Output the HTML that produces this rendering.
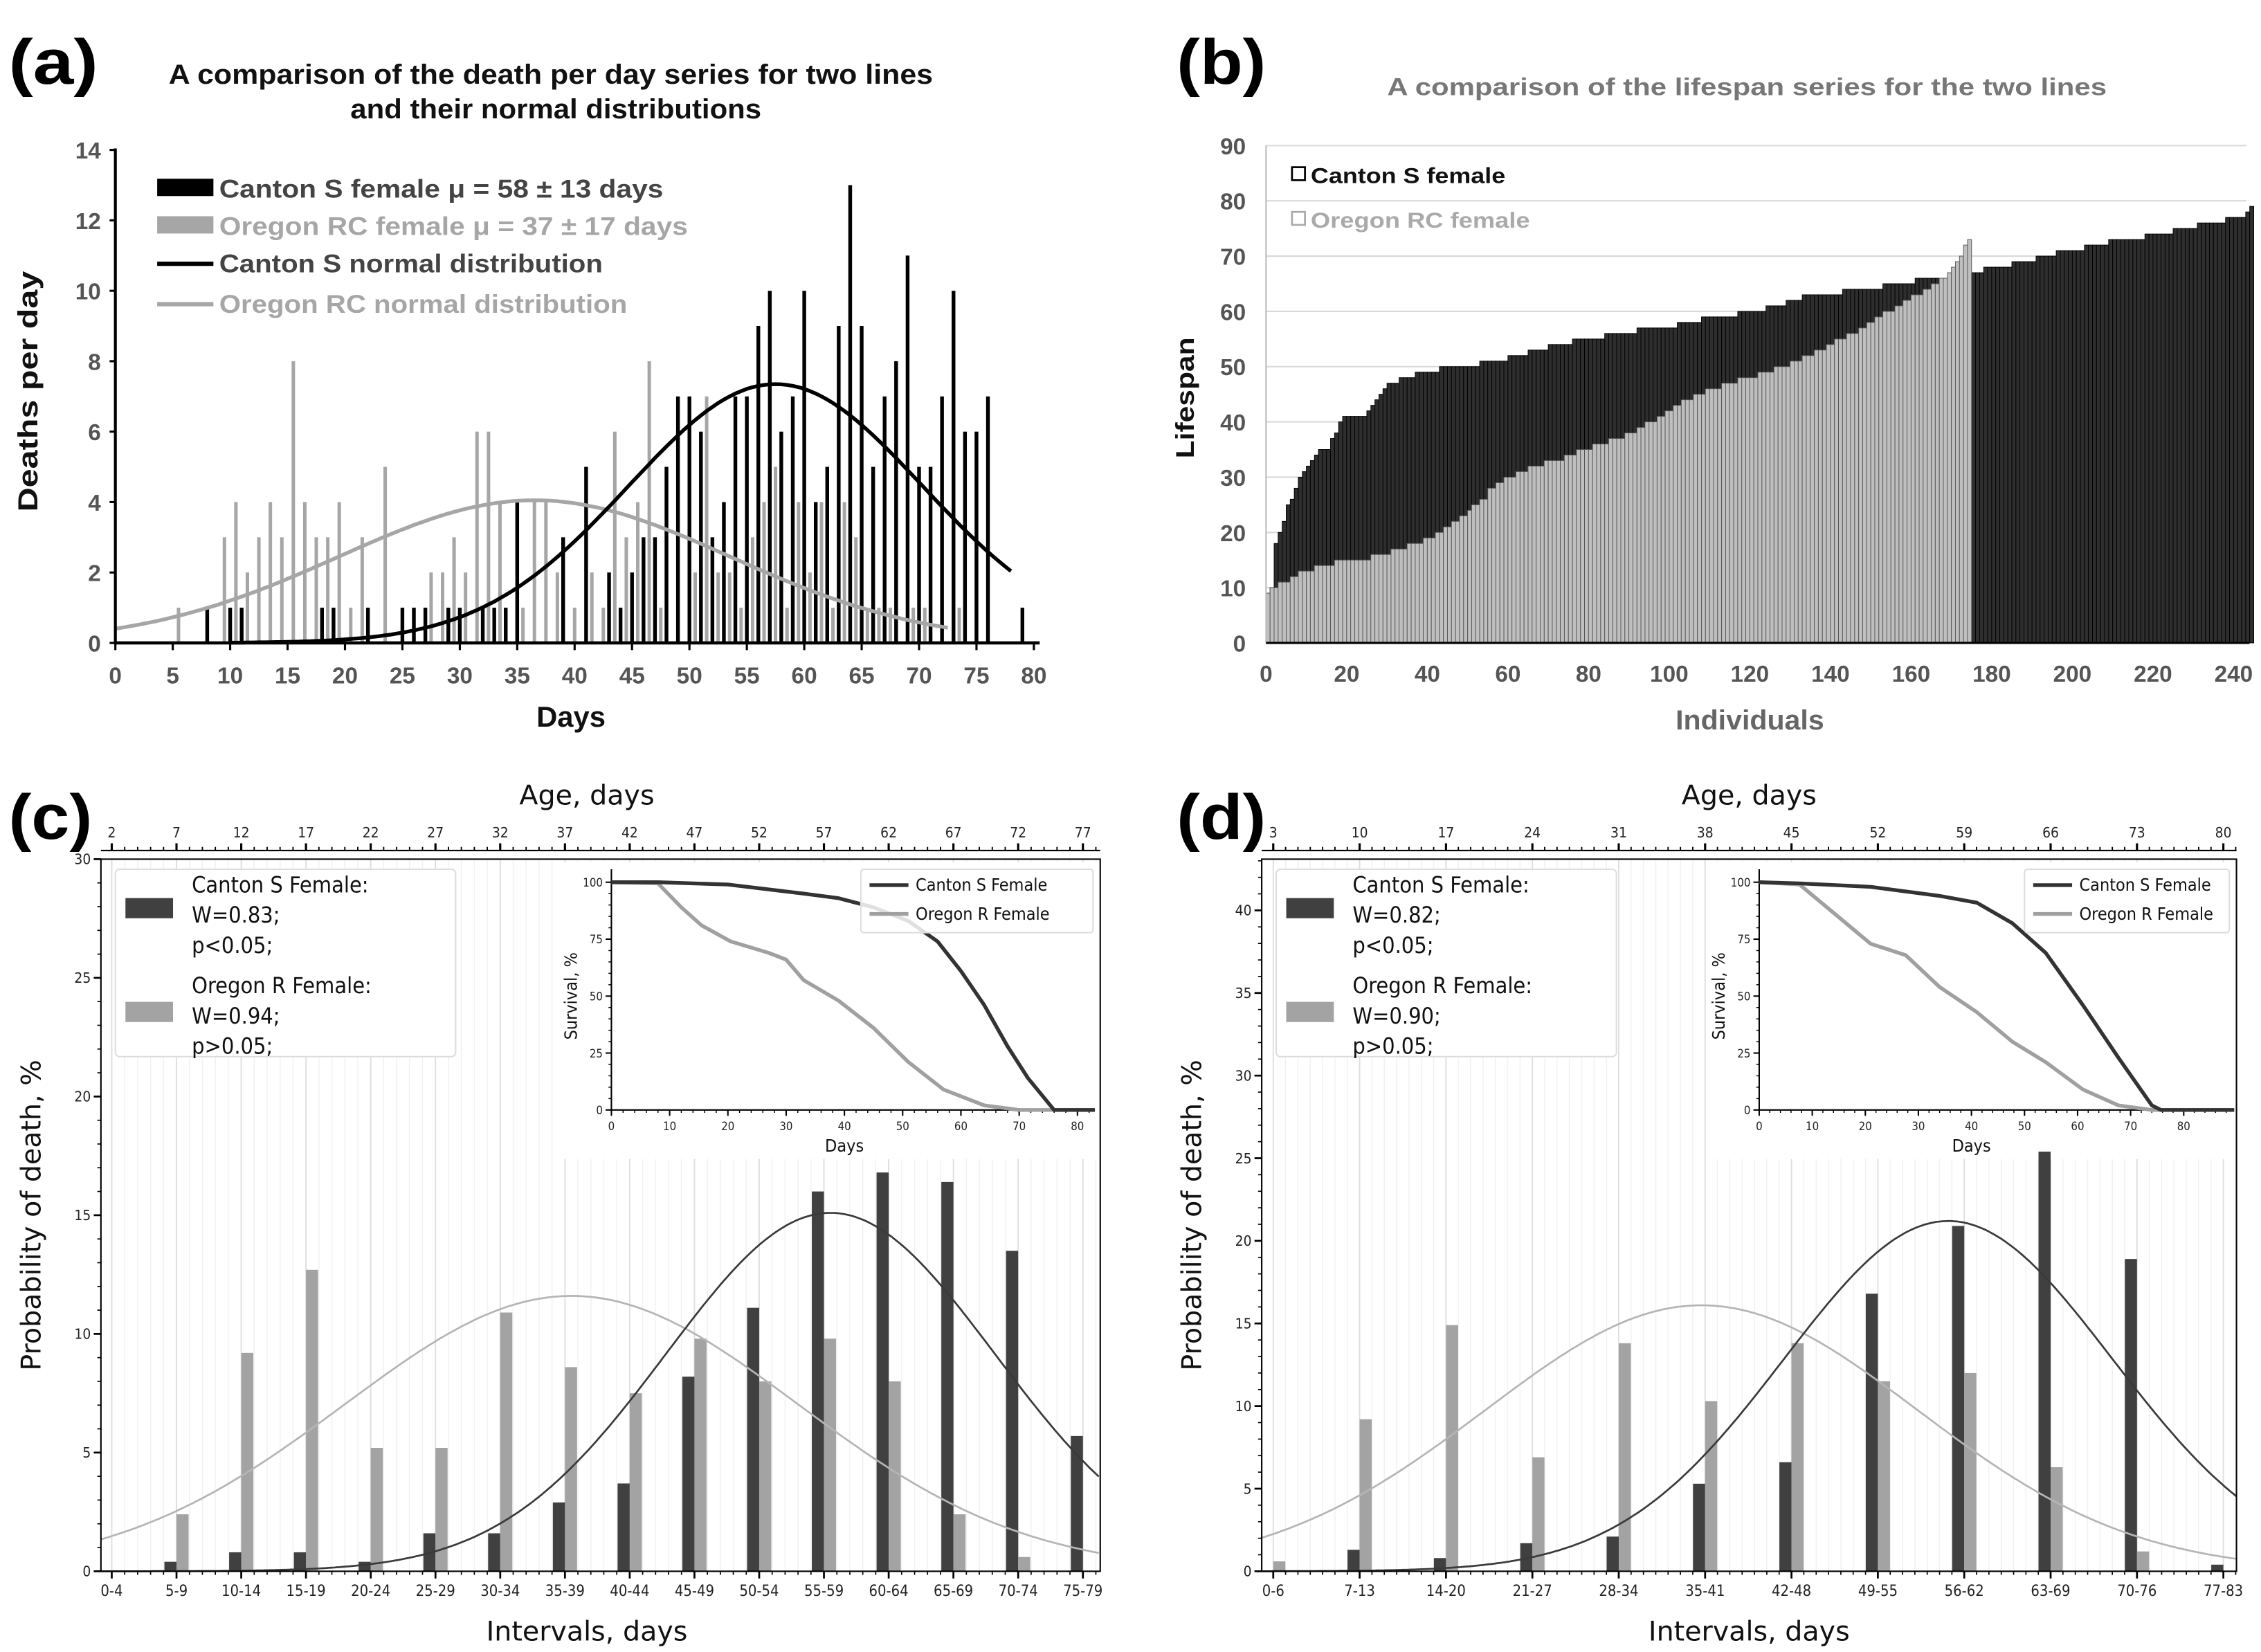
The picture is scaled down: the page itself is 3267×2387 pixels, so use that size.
<!DOCTYPE html>
<html><head><meta charset="utf-8"><title>Lifespan comparison figure</title>
<style>
html,body{margin:0;padding:0;background:#fff;}
svg{display:block;}
.nb{font-family:"Liberation Sans Narrow","Liberation Sans",Arial,sans-serif;font-weight:bold;}
.dj{font-family:"DejaVu Sans","Liberation Sans",sans-serif;}
.djc{font-family:"DejaVu Sans Condensed","DejaVu Sans","Liberation Sans",sans-serif;}
</style></head>
<body>
<svg id="fig" width="3267" height="2387" viewBox="0 0 1568 1146" preserveAspectRatio="none">
<rect x="0" y="0" width="1568" height="1146" fill="#fff"/>
<text x="6" y="58" font-family="Liberation Sans,sans-serif" font-weight="bold" font-size="44" textLength="62" lengthAdjust="spacingAndGlyphs">(a)</text>
<text x="816" y="58" font-family="Liberation Sans,sans-serif" font-weight="bold" font-size="44" textLength="62" lengthAdjust="spacingAndGlyphs">(b)</text>
<text x="6" y="582" font-family="Liberation Sans,sans-serif" font-weight="bold" font-size="44" textLength="58" lengthAdjust="spacingAndGlyphs">(c)</text>
<text x="816" y="582" font-family="Liberation Sans,sans-serif" font-weight="bold" font-size="44" textLength="62" lengthAdjust="spacingAndGlyphs">(d)</text>

<g id="pa">
<text class="nb" x="117" y="58" font-size="19" fill="#111" textLength="530" lengthAdjust="spacingAndGlyphs">A comparison of the death per day series for two lines</text>
<text class="nb" x="243" y="82" font-size="19" fill="#111" textLength="285" lengthAdjust="spacingAndGlyphs">and their normal distributions</text>
<text class="nb" x="0" y="0" font-size="19" fill="#111" transform="translate(26,355) rotate(-90)" textLength="167" lengthAdjust="spacingAndGlyphs">Deaths per day</text>
<text class="nb" x="372" y="504" font-size="20" fill="#111" textLength="48" lengthAdjust="spacingAndGlyphs">Days</text>
<rect x="109" y="124" width="39" height="12" fill="#000"/>
<text class="nb" x="152" y="137" font-size="18" fill="#444" textLength="308" lengthAdjust="spacingAndGlyphs">Canton S female μ = 58 ± 13 days</text>
<rect x="109" y="150" width="39" height="12" fill="#a6a6a6"/>
<text class="nb" x="152" y="163" font-size="18" fill="#a6a6a6" textLength="325" lengthAdjust="spacingAndGlyphs">Oregon RC female μ = 37 ± 17 days</text>
<line x1="109" y1="183" x2="148" y2="183" stroke="#000" stroke-width="3"/>
<text class="nb" x="152" y="189" font-size="18" fill="#444" textLength="266" lengthAdjust="spacingAndGlyphs">Canton S normal distribution</text>
<line x1="109" y1="211" x2="148" y2="211" stroke="#a6a6a6" stroke-width="3"/>
<text class="nb" x="152" y="217" font-size="18" fill="#a6a6a6" textLength="283" lengthAdjust="spacingAndGlyphs">Oregon RC normal distribution</text>
</g>

<g id="pb">
<text x="962" y="66" font-family="Liberation Sans,sans-serif" font-weight="bold" font-size="17" fill="#777" textLength="499" lengthAdjust="spacingAndGlyphs">A comparison of the lifespan series for the two lines</text>
<text x="0" y="0" font-family="Liberation Sans,sans-serif" font-weight="bold" font-size="18" fill="#111" transform="translate(828,318) rotate(-90)" textLength="84" lengthAdjust="spacingAndGlyphs">Lifespan</text>
<text x="1162" y="506" font-family="Liberation Sans,sans-serif" font-weight="bold" font-size="19" fill="#666" textLength="103" lengthAdjust="spacingAndGlyphs">Individuals</text>
</g>
<g id="pc"></g>
<g id="pd"></g>
<g id="pbLegend">
<rect x="896" y="116" width="9" height="9" fill="#fff" stroke="#000" stroke-width="1.3"/>
<text x="909" y="127" font-family="Liberation Sans,sans-serif" font-weight="bold" font-size="15" fill="#111" textLength="135" lengthAdjust="spacingAndGlyphs">Canton S female</text>
<rect x="896" y="147" width="9" height="9" fill="#fff" stroke="#aaa" stroke-width="1.3"/>
<text x="909" y="158" font-family="Liberation Sans,sans-serif" font-weight="bold" font-size="15" fill="#aaa" textLength="152" lengthAdjust="spacingAndGlyphs">Oregon RC female</text>
</g>
</svg>
<script>
// ===== Panel (a) data =====
const aCantonDays = [8,10,11,18,19,22,25,26,27,29,30,32,33,34,35,39,41,43,44,45,46,47,48,49,50,51,52,53,54,55,56,57,58,59,60,61,62,63,64,65,66,67,68,69,70,71,72,73,74,75,76,79];
const aCantonDeaths = [1,1,1,1,1,1,1,1,1,1,1,1,1,1,4,3,5,2,1,2,3,3,5,7,7,6,3,4,7,7,9,10,6,7,10,4,5,9,13,9,5,7,8,11,5,5,7,10,6,6,7,1];
const aOregonDays = [5.5,9.5,10.5,11.5,12.5,13.5,14.5,15.5,16.5,17.5,18.5,19.5,20.5,21.5,23.5,27.5,28.5,29.5,30.5,31.5,32.5,33.5,35.5,36.5,37.5,38.5,40,41.5,42.5,43.5,44.5,45.5,46.5,47.5,50.5,51.5,52.5,53.5,54.5,55.5,56.5,57.5,58.5,59.5,60.5,61.5,62.5,63.5,64.5,65.5,66.5,67.5,69.5,70.5,73.5];
const aOregonDeaths = [1,3,4,2,3,4,3,8,4,3,3,4,1,3,5,2,2,3,2,6,6,4,1,4,4,2,1,2,1,6,3,4,8,1,2,7,2,2,1,3,4,5,1,4,2,4,1,4,3,1,1,1,1,1,1];
const aCantonFit = [7.35, 57.5, 12.8, 10, 78];
const aOregonFit = [4.05, 36.5, 17, 0, 72.5];
const aYTicks = [0,2,4,6,8,10,12,14];
const aXTicks = [0,5,10,15,20,25,30,35,40,45,50,55,60,65,70,75,80];

// ===== Panel (b) data =====
const bCantonValues = [9,10,18,20,22,25,26,28,30,31,32,33,34,35,37,38,40,41,42,43,44,45,46,47,48,49,50,51,52,53,54,55,56,57,58,59,60,61,62,63,64,65,66,67,68,69,70,71,72,73,74,75,76,77,78,79];
const bCantonCounts = [1,1,1,1,1,1,1,1,1,1,1,1,1,3,1,1,1,6,1,1,1,1,1,3,4,6,10,7,5,5,6,8,8,10,6,9,7,5,4,10,10,8,10,7,7,6,5,7,6,9,7,6,7,5,1,1];
const bOregonValues = [9,10,11,12,13,14,15,16,17,18,19,20,21,22,23,24,25,26,28,29,30,31,32,33,34,35,36,37,38,39,40,41,42,43,44,45,46,47,48,49,50,51,52,53,54,55,56,57,58,59,60,61,62,63,64,65,66,67,68,69,70,72,73];
const bOregonCounts = [1,2,3,2,4,5,9,5,4,4,3,2,2,2,2,1,2,2,2,2,3,3,4,5,3,4,4,4,3,2,3,2,2,2,3,3,4,4,5,4,4,3,3,3,2,3,3,2,2,2,3,2,2,3,2,2,2,1,1,1,1,1,1];
const bYTicks = [0,10,20,30,40,50,60,70,80,90];
const bXTicks = [0,20,40,60,80,100,120,140,160,180,200,220,240];

// ===== Panel (c) data =====
const cLabels = ["0-4","5-9","10-14","15-19","20-24","25-29","30-34","35-39","40-44","45-49","50-54","55-59","60-64","65-69","70-74","75-79"];
const cCanton = [0,0.4,0.8,0.8,0.4,1.6,1.6,2.9,3.7,8.2,11.1,16.0,16.8,16.4,13.5,5.7];
const cOregon = [0,2.4,9.2,12.7,5.2,5.2,10.9,8.6,7.5,9.8,8.0,9.8,8.0,2.4,0.6,0];
const cCantonFit = [15.1, 57.5, 12.7];
const cOregonFit = [11.6, 37.5, 17.5];
const cAgeTicks = [2,7,12,17,22,27,32,37,42,47,52,57,62,67,72,77];
const cYTicks = [0,5,10,15,20,25,30];
const cSurvCantonDays = [0,8,20,33,39,45,51,56,60,64,68,71.5,76,83];
const cSurvCanton = [100,100,99,95,93,89,83,74,61,46,28,14,0,0];
const cSurvOregonDays = [0,8,12,15.5,20.5,27,30,33,39,45,51,57,64,70,83];
const cSurvOregon = [100,99.5,89,81,74,69,66,57,48,36,21,9,2,0,0];
const cStats = ["W=0.83;","p<0.05;","W=0.94;","p>0.05;"];

// ===== Panel (d) data =====
const dLabels = ["0-6","7-13","14-20","21-27","28-34","35-41","42-48","49-55","56-62","63-69","70-76","77-83"];
const dCanton = [0,1.3,0.8,1.7,2.1,5.3,6.6,16.8,20.9,25.4,18.9,0.4];
const dOregon = [0.6,9.2,14.9,6.9,13.8,10.3,13.8,11.5,12.0,6.3,1.2,0];
const dCantonFit = [21.2, 57.7, 13.3];
const dOregonFit = [16.1, 37.7, 17.5];
const dAgeTicks = [3,10,17,24,31,38,45,52,59,66,73,80];
const dYTicks = [0,5,10,15,20,25,30,35,40];
const dSurvCantonDays = [0,7.6,21,34,41,47.7,54,61,67.7,74,75.7,89.5];
const dSurvCanton = [100,99.5,98,94,91,82,69,46,23,2,0,0];
const dSurvOregonDays = [0,7.6,14.3,21,27.6,34,41,47.7,54,61,67.7,74,89.5];
const dSurvOregon = [100,99,86,73,68,54,43,30,21,9,2,0,0];
const dStats = ["W=0.82;","p<0.05;","W=0.90;","p>0.05;"];

const NS = document.getElementById('fig').namespaceURI;
function el(parent, tag, attrs, name, text) {
  const e = document.createElementNS(NS, tag);
  for (const k in attrs) e.setAttribute(k, attrs[k]);
  
  
  if (text !== undefined) e.textContent = text;
  parent.appendChild(e);
  return e;
}
function gauss(p, d) { return p[0] * Math.exp(-Math.pow(d - p[1], 2) / (2 * p[2] * p[2])); }

(function () {
  const g = document.getElementById('pa');
  const ax = d => 80 + d * (717 - 80) / 80;
  const ay = v => 446 - v * (342 / 14);
  aOregonDays.forEach((d, i) => {
    el(g, 'rect', {x: ax(d) - 1.2, y: ay(aOregonDeaths[i]), width: 2.4, height: 446 - ay(aOregonDeaths[i]), fill: '#a6a6a6'}, 'oregon-deaths-bar');
  });
  aCantonDays.forEach((d, i) => {
    el(g, 'rect', {x: ax(d) - 1.3, y: ay(aCantonDeaths[i]), width: 2.6, height: 446 - ay(aCantonDeaths[i]), fill: '#000'}, 'canton-deaths-bar');
  });
  function curve(p, color, name) {
    let s = '';
    for (let d = p[3]; d <= p[4] + 1e-9; d += 0.5) s += (s ? 'L' : 'M') + ax(d).toFixed(1) + ',' + ay(gauss(p, d)).toFixed(1);
    el(g, 'path', {d: s, fill: 'none', stroke: color, 'stroke-width': 2.6}, name);
  }
  curve(aOregonFit, '#a6a6a6', 'oregon-normal-curve');
  curve(aCantonFit, '#000', 'canton-normal-curve');
  el(g, 'line', {x1: 80, y1: 103, x2: 80, y2: 447, stroke: '#000', 'stroke-width': 2}, 'panel-a-y-axis');
  el(g, 'line', {x1: 79, y1: 446, x2: 721, y2: 446, stroke: '#000', 'stroke-width': 2.2}, 'panel-a-x-axis');
  aYTicks.forEach(v => {
    el(g, 'line', {x1: 76, y1: ay(v), x2: 80, y2: ay(v), stroke: '#000', 'stroke-width': 1.5}, 'y-tick');
    el(g, 'text', {x: 70, y: ay(v) + 6, 'text-anchor': 'end', 'font-size': 16, fill: '#555', class: 'nb'}, 'y-tick-label', String(v));
  });
  aXTicks.forEach(v => {
    el(g, 'line', {x1: ax(v), y1: 446, x2: ax(v), y2: 451, stroke: '#000', 'stroke-width': 1.5}, 'x-tick');
    el(g, 'text', {x: ax(v), y: 474, 'text-anchor': 'middle', 'font-size': 16, fill: '#555', class: 'nb'}, 'x-tick-label', String(v));
  });
})();

(function () {
  const g = document.getElementById('pb');
  const bx = i => 878 + i * (1549 - 878) / 240;
  const by = v => 446 - v * (345 / 90);
  const bw = (1549 - 878) / 240;
  bYTicks.forEach(v => {
    if (v > 0) el(g, 'line', {x1: 878, y1: by(v), x2: 1558, y2: by(v), stroke: '#d9d9d9', 'stroke-width': 1}, 'gridline');
    el(g, 'text', {x: 864, y: by(v) + 6, 'text-anchor': 'end', 'font-size': 16, fill: '#555', 'font-family': 'Liberation Sans,sans-serif', 'font-weight': 'bold'}, 'y-tick-label', String(v));
  });
  function bars(vals, counts, fill, stroke, name) {
    let i = 0;
    vals.forEach((v, k) => {
      for (let c = 0; c < counts[k]; c++) {
        el(g, 'rect', {x: bx(i), y: by(v), width: bw, height: 446 - by(v), fill: fill, stroke: stroke, 'stroke-width': 0.45}, name);
        i++;
      }
    });
  }
  bars(bCantonValues, bCantonCounts, '#2e2e2e', '#000', 'canton-lifespan-bar');
  bars(bOregonValues, bOregonCounts, '#bfbfbf', '#555', 'oregon-lifespan-bar');
  el(g, 'line', {x1: 878, y1: 101, x2: 878, y2: 446, stroke: '#bbb', 'stroke-width': 1}, 'panel-b-y-axis');
  el(g, 'line', {x1: 878, y1: 446, x2: 1560, y2: 446, stroke: '#000', 'stroke-width': 1.5}, 'panel-b-x-axis');
  bXTicks.forEach(v => {
    el(g, 'text', {x: bx(v), y: 473, 'text-anchor': 'middle', 'font-size': 16, fill: '#555', 'font-family': 'Liberation Sans,sans-serif', 'font-weight': 'bold'}, 'x-tick-label', String(v));
  });
})();

function drawDist(g, o) {
  const X = d => o.c0 + (d - o.off) / o.per * o.step;
  const Y = v => o.bottom - v * (o.bottom - o.top) / o.ymax;
  const dMin = o.off - (o.c0 - o.left) / o.step * o.per;
  const dMax = o.off + (o.right - o.c0) / o.step * o.per;
  for (let d = Math.ceil(dMin); d <= dMax; d++) {
    const major = ((d - o.off) % o.per) === 0;
    el(g, 'line', {x1: X(d), y1: o.top, x2: X(d), y2: o.bottom, stroke: major ? '#dedede' : '#f1f1f1', 'stroke-width': major ? 0.9 : 0.7}, 'gridline');
  }
  const iL = o.iLeft, i0 = 770, i100 = 612;
  el(g, 'rect', {x: iL - 34, y: 598, width: o.right - iL + 33, height: 206, fill: '#fff'}, 'inset-background');
  o.labels.forEach((lab, i) => {
    const c = o.c0 + i * o.step;
    el(g, 'rect', {x: c - 8.4, y: Y(o.canton[i]), width: 8.4, height: o.bottom - Y(o.canton[i]), fill: '#404040'}, 'canton-probability-bar');
    el(g, 'rect', {x: c, y: Y(o.oregon[i]), width: 8.4, height: o.bottom - Y(o.oregon[i]), fill: '#a3a3a3'}, 'oregon-probability-bar');
  });
  function curve(p, color, name) {
    let s = '';
    for (let x = o.left; x <= o.right + 0.01; x += 2) {
      const d = dMin + (x - o.left) / (o.right - o.left) * (dMax - dMin);
      s += (s ? 'L' : 'M') + x.toFixed(1) + ',' + Y(gauss(p, d)).toFixed(1);
    }
    el(g, 'path', {d: s, fill: 'none', stroke: color, 'stroke-width': 1.3}, name);
  }
  curve(o.oFit, '#b5b5b5', 'oregon-normal-curve');
  curve(o.cFit, '#3a3a3a', 'canton-normal-curve');
  el(g, 'rect', {x: o.left, y: o.top, width: o.right - o.left, height: o.bottom - o.top, fill: 'none', stroke: '#000', 'stroke-width': 1}, 'axes-frame');
  for (let v = 0; v <= o.ymax; v++) {
    const major = v % 5 === 0;
    el(g, 'line', {x1: o.left - (major ? 5 : 2.5), y1: Y(v), x2: o.left, y2: Y(v), stroke: '#000', 'stroke-width': major ? 1.3 : 0.8}, 'y-tick');
  }
  o.yTicks.forEach(v => {
    el(g, 'text', {x: o.left - 7, y: Y(v) + 3.5, 'text-anchor': 'end', 'font-size': 10, fill: '#222', class: 'djc'}, 'y-tick-label', String(v));
  });
  for (let d = Math.ceil(dMin); d <= dMax; d++) {
    const major = ((d - o.off) % o.per) === 0;
    el(g, 'line', {x1: X(d), y1: o.bottom, x2: X(d), y2: o.bottom + (major ? 5 : 2.5), stroke: '#000', 'stroke-width': major ? 1.3 : 0.8}, 'x-tick');
  }
  o.labels.forEach((lab, i) => {
    el(g, 'text', {x: o.c0 + i * o.step, y: o.bottom + 17, 'text-anchor': 'middle', 'font-size': 10.5, fill: '#222', class: 'djc'}, 'x-tick-label', lab);
  });
  const ty = o.top - 6;
  el(g, 'line', {x1: o.left, y1: ty, x2: o.right, y2: ty, stroke: '#000', 'stroke-width': 1}, 'age-axis-line');
  for (let d = Math.ceil(dMin); d <= dMax; d++) {
    const major = ((d - o.off) % o.per) === 0;
    el(g, 'line', {x1: X(d), y1: ty - (major ? 5 : 2.5), x2: X(d), y2: ty, stroke: '#000', 'stroke-width': major ? 1.5 : 0.9}, 'age-tick');
  }
  o.ages.forEach(a => {
    el(g, 'text', {x: X(a), y: ty - 9, 'text-anchor': 'middle', 'font-size': 10, fill: '#222', class: 'djc'}, 'age-tick-label', String(a));
  });
  el(g, 'text', {x: o.midX, y: 558, 'text-anchor': 'middle', 'font-size': 19, fill: '#111', class: 'dj'}, 'age-axis-title', 'Age, days');
  el(g, 'text', {x: o.midX, y: 1138, 'text-anchor': 'middle', 'font-size': 19, fill: '#111', class: 'dj'}, 'x-axis-title', 'Intervals, days');
  el(g, 'text', {x: 0, y: 0, 'text-anchor': 'middle', 'font-size': 19, fill: '#111', class: 'dj', transform: 'translate(' + (o.left - 42) + ',843) rotate(-90)'}, 'y-axis-title', 'Probability of death, %');
  const lx = o.left + 10;
  el(g, 'rect', {x: lx, y: 603, width: 236, height: 130, fill: '#fff', stroke: '#ddd', 'stroke-width': 1, rx: 3}, 'legend-box');
  el(g, 'rect', {x: lx + 7, y: 623, width: 33, height: 14, fill: '#404040'}, 'legend-canton-swatch');
  el(g, 'rect', {x: lx + 7, y: 695, width: 33, height: 14, fill: '#a3a3a3'}, 'legend-oregon-swatch');
  const tx = lx + 53;
  el(g, 'text', {x: tx, y: 619, 'font-size': 15.5, fill: '#111', class: 'djc'}, 'legend-canton-name', 'Canton S Female:');
  el(g, 'text', {x: tx, y: 640, 'font-size': 15.5, fill: '#111', class: 'djc'}, 'legend-canton-w', o.stats[0]);
  el(g, 'text', {x: tx, y: 661, 'font-size': 15.5, fill: '#111', class: 'djc'}, 'legend-canton-p', o.stats[1]);
  el(g, 'text', {x: tx, y: 689, 'font-size': 15.5, fill: '#111', class: 'djc'}, 'legend-oregon-name', 'Oregon R Female:');
  el(g, 'text', {x: tx, y: 710, 'font-size': 15.5, fill: '#111', class: 'djc'}, 'legend-oregon-w', o.stats[2]);
  el(g, 'text', {x: tx, y: 731, 'font-size': 15.5, fill: '#111', class: 'djc'}, 'legend-oregon-p', o.stats[3]);
  const IX = d => iL + d * o.iPer;
  const IY = v => i0 - v * (i0 - i100) / 100;
  el(g, 'line', {x1: iL, y1: 603, x2: iL, y2: i0, stroke: '#000', 'stroke-width': 1}, 'inset-y-axis');
  el(g, 'line', {x1: iL, y1: i0, x2: IX(o.iMax), y2: i0, stroke: '#000', 'stroke-width': 1}, 'inset-x-axis');
  for (let v = 0; v <= 100; v += 5) {
    const major = v % 25 === 0;
    el(g, 'line', {x1: iL - (major ? 4 : 2), y1: IY(v), x2: iL, y2: IY(v), stroke: '#000', 'stroke-width': major ? 1 : 0.7}, 'inset-y-tick');
    if (major) el(g, 'text', {x: iL - 6, y: IY(v) + 3, 'text-anchor': 'end', 'font-size': 8, fill: '#222', class: 'djc'}, 'inset-y-tick-label', String(v));
  }
  for (let d = 0; d <= o.iMax; d += 2) {
    const major = d % 10 === 0;
    el(g, 'line', {x1: IX(d), y1: i0, x2: IX(d), y2: i0 + (major ? 4 : 2), stroke: '#000', 'stroke-width': major ? 1 : 0.7}, 'inset-x-tick');
    if (major) el(g, 'text', {x: IX(d), y: 784, 'text-anchor': 'middle', 'font-size': 8, fill: '#222', class: 'djc'}, 'inset-x-tick-label', String(d));
  }
  el(g, 'text', {x: IX(40), y: 799, 'text-anchor': 'middle', 'font-size': 12, fill: '#111', class: 'djc'}, 'inset-x-axis-title', 'Days');
  el(g, 'text', {x: 0, y: 0, 'text-anchor': 'middle', 'font-size': 12, fill: '#111', class: 'djc', transform: 'translate(' + (iL - 24) + ',691) rotate(-90)'}, 'inset-y-axis-title', 'Survival, %');
  function surv(days, vals, color, name) {
    const pts = days.map((d, i) => IX(d).toFixed(1) + ',' + IY(vals[i]).toFixed(1)).join(' ');
    el(g, 'polyline', {points: pts, fill: 'none', stroke: color, 'stroke-width': 2.6, 'stroke-linejoin': 'round'}, name);
  }
  surv(o.sODays, o.sO, '#a0a0a0', 'oregon-survival-line');
  surv(o.sCDays, o.sC, '#333', 'canton-survival-line');
  const bxL = o.iLegX;
  el(g, 'rect', {x: bxL, y: 603, width: o.right - 5 - bxL, height: 44, fill: '#fff', 'fill-opacity': 0.85, stroke: '#ddd', 'stroke-width': 1, rx: 2}, 'inset-legend-box');
  el(g, 'line', {x1: bxL + 6, y1: 614, x2: bxL + 33, y2: 614, stroke: '#333', 'stroke-width': 2.6}, 'inset-legend-canton-line');
  el(g, 'line', {x1: bxL + 6, y1: 634, x2: bxL + 33, y2: 634, stroke: '#a0a0a0', 'stroke-width': 2.6}, 'inset-legend-oregon-line');
  el(g, 'text', {x: bxL + 38, y: 618, 'font-size': 12, fill: '#111', class: 'djc'}, 'inset-legend-canton', 'Canton S Female');
  el(g, 'text', {x: bxL + 38, y: 638, 'font-size': 12, fill: '#111', class: 'djc'}, 'inset-legend-oregon', 'Oregon R Female');
}

drawDist(document.getElementById('pc'), {
  left: 70, right: 763, top: 596, bottom: 1090, ymax: 30, c0: 77.5, step: 44.9, per: 5, off: 2, midX: 407,
  labels: cLabels, canton: cCanton, oregon: cOregon, cFit: cCantonFit, oFit: cOregonFit,
  ages: cAgeTicks, yTicks: cYTicks, stats: cStats,
  iLeft: 424, iPer: 4.04, iMax: 83, iLegX: 597,
  sCDays: cSurvCantonDays, sC: cSurvCanton, sODays: cSurvOregonDays, sO: cSurvOregon
});
drawDist(document.getElementById('pd'), {
  left: 875, right: 1551, top: 596, bottom: 1090, ymax: 43.1, c0: 883, step: 59.9, per: 7, off: 3, midX: 1213,
  labels: dLabels, canton: dCanton, oregon: dOregon, cFit: dCantonFit, oFit: dOregonFit,
  ages: dAgeTicks, yTicks: dYTicks, stats: dStats,
  iLeft: 1220, iPer: 3.68, iMax: 89.5, iLegX: 1404,
  sCDays: dSurvCantonDays, sC: dSurvCanton, sODays: dSurvOregonDays, sO: dSurvOregon
});
</script>
</body></html>
